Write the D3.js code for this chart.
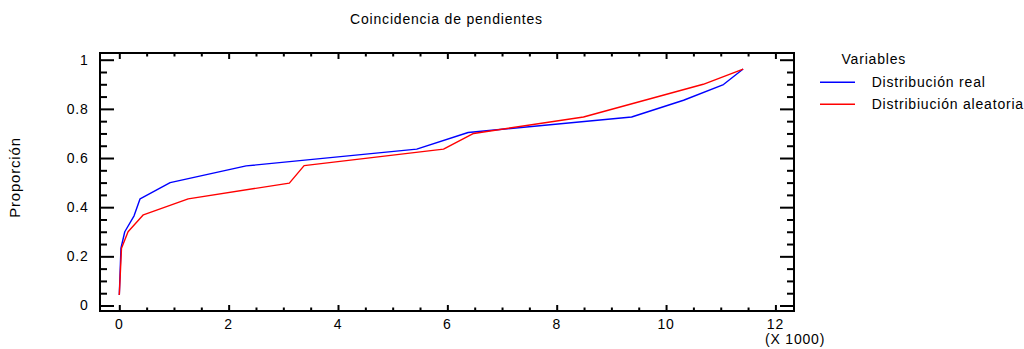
<!DOCTYPE html>
<html>
<head>
<meta charset="utf-8">
<script src="https://cdn.jsdelivr.net/npm/d3@7"></script>
<style>
  html, body { margin: 0; padding: 0; background: #fff; }
  svg { display: block; }
  text { font-family: "Liberation Sans", Arial, sans-serif; fill: #000; letter-spacing: 0.8px; }
</style>
</head>
<body>
<svg id="chart" width="1024" height="349"></svg>
<script>
// Empirical cumulative proportions (x in thousands)
const realX = [0, 0.03, 0.1, 0.27, 0.38, 0.93, 2.32, 5.44, 6.38, 9.37, 10.32, 11.05, 11.41];
const realY = [0.043, 0.233, 0.30, 0.365, 0.434, 0.50, 0.568, 0.636, 0.704, 0.767, 0.835, 0.899, 0.962];
const randX = [0, 0.04, 0.16, 0.44, 1.26, 3.11, 3.38, 5.93, 6.48, 8.49, 10.68, 11.41];
const randY = [0.043, 0.233, 0.30, 0.369, 0.434, 0.498, 0.569, 0.636, 0.70, 0.767, 0.90, 0.962];

const seriesNames = ["Distribución real", "Distribiución aleatoria"];
const seriesColors = ["#0000ff", "#ff0000"];
const xTickValues = [0, 2, 4, 6, 8, 10, 12];
const yTickValues = [0, 0.2, 0.4, 0.6, 0.8, 1];

const svg = d3.select("#chart");
const L = 100, R = 794, T = 53, B = 311;

const x = d3.scaleLinear().domain([-0.353, 12.34]).range([L, R]);
const y = d3.scaleLinear().domain([-0.0224, 1.0273]).range([B, T]);

// minor tick positions
const xMinor = d3.range(0, 12.01, 0.5).filter(v => !xTickValues.includes(v));
const yMinor = d3.range(0, 1.001, 0.05).map(v => +v.toFixed(2)).filter(v => !yTickValues.includes(v));

function tickLayer(axis, tx, ty) {
  const g = svg.append("g").attr("transform", `translate(${tx},${ty})`).call(axis);
  g.select(".domain").remove();
  g.selectAll(".tick line").attr("stroke", "#000").attr("stroke-width", 2);
  return g;
}

// inward ticks on all four sides
tickLayer(d3.axisBottom(x).tickValues(xTickValues).tickSize(-6).tickFormat(""), 0, B);
tickLayer(d3.axisBottom(x).tickValues(xMinor).tickSize(-3.5).tickFormat(""), 0, B);
tickLayer(d3.axisTop(x).tickValues(xTickValues).tickSize(-6).tickFormat(""), 0, T);
tickLayer(d3.axisTop(x).tickValues(xMinor).tickSize(-3.5).tickFormat(""), 0, T);
tickLayer(d3.axisLeft(y).tickValues(yTickValues).tickSize(-14).tickFormat(""), L, 0);
tickLayer(d3.axisLeft(y).tickValues(yMinor).tickSize(-7).tickFormat(""), L, 0);
tickLayer(d3.axisRight(y).tickValues(yTickValues).tickSize(-14).tickFormat(""), R, 0);
tickLayer(d3.axisRight(y).tickValues(yMinor).tickSize(-7).tickFormat(""), R, 0);

// tick labels
svg.append("g").selectAll("text").data(xTickValues).join("text")
  .attr("x", d => x(d)).attr("y", 329)
  .attr("text-anchor", "middle").attr("font-size", 14)
  .text(d => d);
svg.append("g").selectAll("text").data(yTickValues).join("text")
  .attr("x", 88.5).attr("y", d => y(d) + 5)
  .attr("text-anchor", "end").attr("font-size", 14)
  .text(d => d === 0 || d === 1 ? d : d.toFixed(1));

svg.append("text").attr("x", 765).attr("y", 344).attr("font-size", 14).text("(X 1000)");

// frame
svg.append("rect").attr("x", L).attr("y", T).attr("width", R - L).attr("height", B - T)
  .attr("fill", "none").attr("stroke", "#000").attr("stroke-width", 2);

// series lines
const line = d3.line().x(d => x(d[0])).y(d => y(d[1]));
const series = [d3.zip(realX, realY), d3.zip(randX, randY)];
svg.append("g").selectAll("path").data(series).join("path")
  .attr("d", line).attr("fill", "none")
  .attr("stroke", (d, i) => seriesColors[i]).attr("stroke-width", 1.4)
  .attr("stroke-linejoin", "round");

// title and axis label
svg.append("text").attr("x", 446.5).attr("y", 24).attr("text-anchor", "middle")
  .attr("font-size", 14).text("Coincidencia de pendientes");
svg.append("text").attr("transform", "translate(19.5,177.5) rotate(-90)")
  .attr("text-anchor", "middle").attr("font-size", 15).text("Proporción");

// legend
const lg = svg.append("g");
lg.append("text").attr("x", 841.5).attr("y", 64).attr("font-size", 14).text("Variables");
const items = lg.selectAll("g.item").data(seriesNames).join("g").attr("class", "item")
  .attr("transform", (d, i) => `translate(0,${82.3 + i * 22})`);
items.append("line").attr("x1", 820).attr("x2", 855).attr("y1", 0).attr("y2", 0)
  .attr("stroke", (d, i) => seriesColors[i]).attr("stroke-width", 1.4);
items.append("text").attr("x", 871.7).attr("y", 5).attr("font-size", 14).text(d => d);
</script>
</body>
</html>
